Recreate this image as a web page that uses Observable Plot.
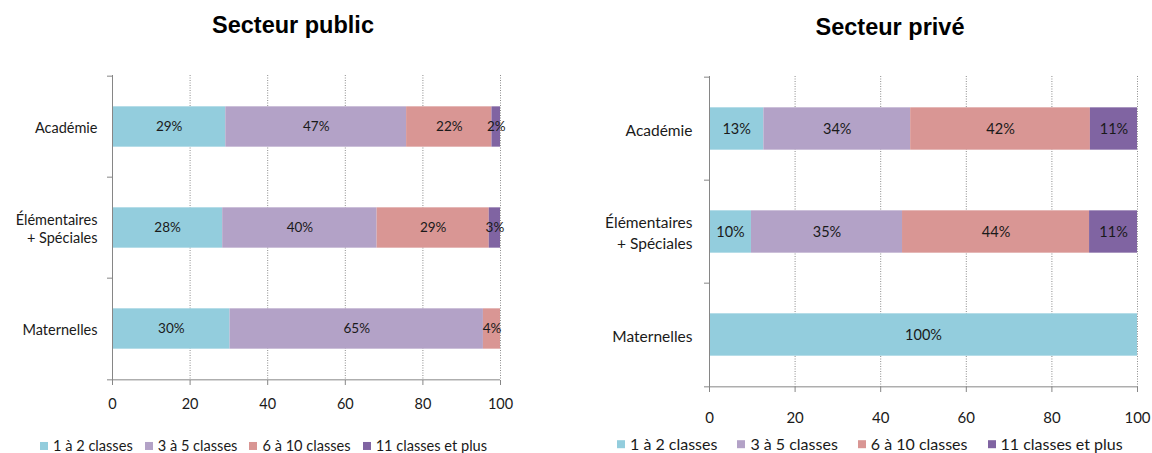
<!DOCTYPE html>
<html><head><meta charset="utf-8">
<script src="https://cdn.jsdelivr.net/npm/d3@7"></script>
<script src="https://cdn.jsdelivr.net/npm/@observablehq/plot@0.6"></script>
<style>
body{margin:0;background:#fff;width:1152px;height:453px;position:relative;overflow:hidden;font-family:Lato,sans-serif;}
.title{position:absolute;font-family:"Liberation Sans",Arial,sans-serif;font-weight:bold;font-size:23.5px;color:#000;transform:translate(-50%,-50%);white-space:nowrap;}
.legend{position:absolute;display:flex;align-items:center;white-space:nowrap;color:#1a1a1a;transform:translateY(-50%);line-height:1.1;}
.legend .item{display:flex;align-items:center;}
.legend .sw{display:inline-block;width:8px;height:8px;margin-right:5px;}
.panel{position:absolute;}
</style></head><body>
<script>
const categories = ["Académie", "Élémentaires\n+ Spéciales", "Maternelles"];
const series = ["1 à 2 classes", "3 à 5 classes", "6 à 10 classes", "11 classes et plus"];
const colors = ["#93CDDD", "#B3A2C7", "#D99694", "#8064A2"];
const xTicks = [0, 20, 40, 60, 80, 100];
const gridTicks = [20, 40, 60, 80, 100];
const publicTitle = "Secteur public";
const priveTitle = "Secteur privé";
// values per category (rows) and series (columns), in %
const publicValues = [[29.2, 46.6, 22.0, 2.2], [28.4, 39.8, 28.9, 2.9], [30.3, 65.3, 4.4, 0]];
const priveValues = [[12.7, 34.3, 42.0, 11.0], [9.8, 35.3, 43.7, 11.2], [100, 0, 0, 0]];

function toRows(values) {
  const rows = [];
  values.forEach((row, i) => row.forEach((v, j) => {
    if (v > 0) rows.push({category: categories[i], series: series[j], value: v});
  }));
  return rows;
}

function panel(cfg) {
  const {values, left, top, width, height, mt, mb, ml, mr, barH, fs, labelFs, tickFs, tickPad, yPad, lineH} = cfg;
  const data = toRows(values);
  const bw = (height - mt - mb) / categories.length;
  const ins = (bw - barH) / 2;
  const axisColor = "#868686";
  const chart = Plot.plot({
    width, height, marginTop: mt, marginBottom: mb, marginLeft: ml, marginRight: mr,
    style: {fontFamily: "Lato, sans-serif", fontSize: fs + "px", color: "#1a1a1a", background: "white"},
    x: {domain: [0, 100], label: null},
    y: {domain: categories, padding: 0, label: null},
    color: {domain: series, range: colors},
    marks: [
      Plot.gridX({ticks: gridTicks, stroke: "#8c8c8c", strokeOpacity: 1, strokeDasharray: "1,1.5"}),
      Plot.barX(data, {x: "value", y: "category", fill: "series", insetTop: ins, insetBottom: ins}),
      Plot.text(data, Plot.stackX({x: "value", y: "category", text: d => Math.round(d.value) + "%", fill: "#1a1a1a", fontSize: labelFs})),
      Plot.ruleX([0], {stroke: axisColor}),
      Plot.ruleY([categories[categories.length - 1]], {y: d => d, dy: bw / 2, x1: 0, x2: 100, insetLeft: -5, stroke: axisColor}),
      Plot.ruleY(categories, {y: d => d, dy: -bw / 2, x1: 0, x2: 0, insetLeft: -5, stroke: axisColor}),
      Plot.axisX({ticks: xTicks, tickSize: 5, tickPadding: tickPad, stroke: axisColor, fontSize: tickFs, label: null}),
      Plot.axisY({tickSize: 0, tickPadding: yPad, fontSize: fs, lineHeight: lineH, label: null})
    ]
  });
  const div = document.createElement("div");
  div.className = "panel";
  div.style.left = left + "px";
  div.style.top = top + "px";
  div.appendChild(chart);
  document.body.appendChild(div);
}

function title(text, x, y) {
  const t = document.createElement("div");
  t.className = "title";
  t.style.left = x + "px";
  t.style.top = y + "px";
  t.textContent = text;
  document.body.appendChild(t);
}

function legend(x, y, fs, gap) {
  const l = document.createElement("div");
  l.className = "legend";
  l.style.left = x + "px";
  l.style.top = y + "px";
  l.style.fontSize = fs + "px";
  l.style.gap = gap + "px";
  series.forEach((s, i) => {
    const it = document.createElement("span");
    it.className = "item";
    const sw = document.createElement("span");
    sw.className = "sw";
    sw.style.background = colors[i];
    it.appendChild(sw);
    it.appendChild(document.createTextNode(s));
    l.appendChild(it);
  });
  document.body.appendChild(l);
}

panel({values: publicValues, left: 0, top: 60, width: 560, height: 360, mt: 15, mb: 40, ml: 112, mr: 60,
  barH: 41, fs: 14.5, labelFs: 13.5, tickFs: 14.5, tickPad: 13, yPad: 15, lineH: 1.25});
panel({values: priveValues, left: 580, top: 60, width: 572, height: 370, mt: 16, mb: 43, ml: 129, mr: 15,
  barH: 43, fs: 15.5, labelFs: 14.5, tickFs: 15, tickPad: 20, yPad: 17, lineH: 1.35});

title(publicTitle, 293, 25);
title(priveTitle, 890, 27);
legend(40, 446, 14.6, 12);
legend(617, 444, 16, 20);
</script>
</body></html>
